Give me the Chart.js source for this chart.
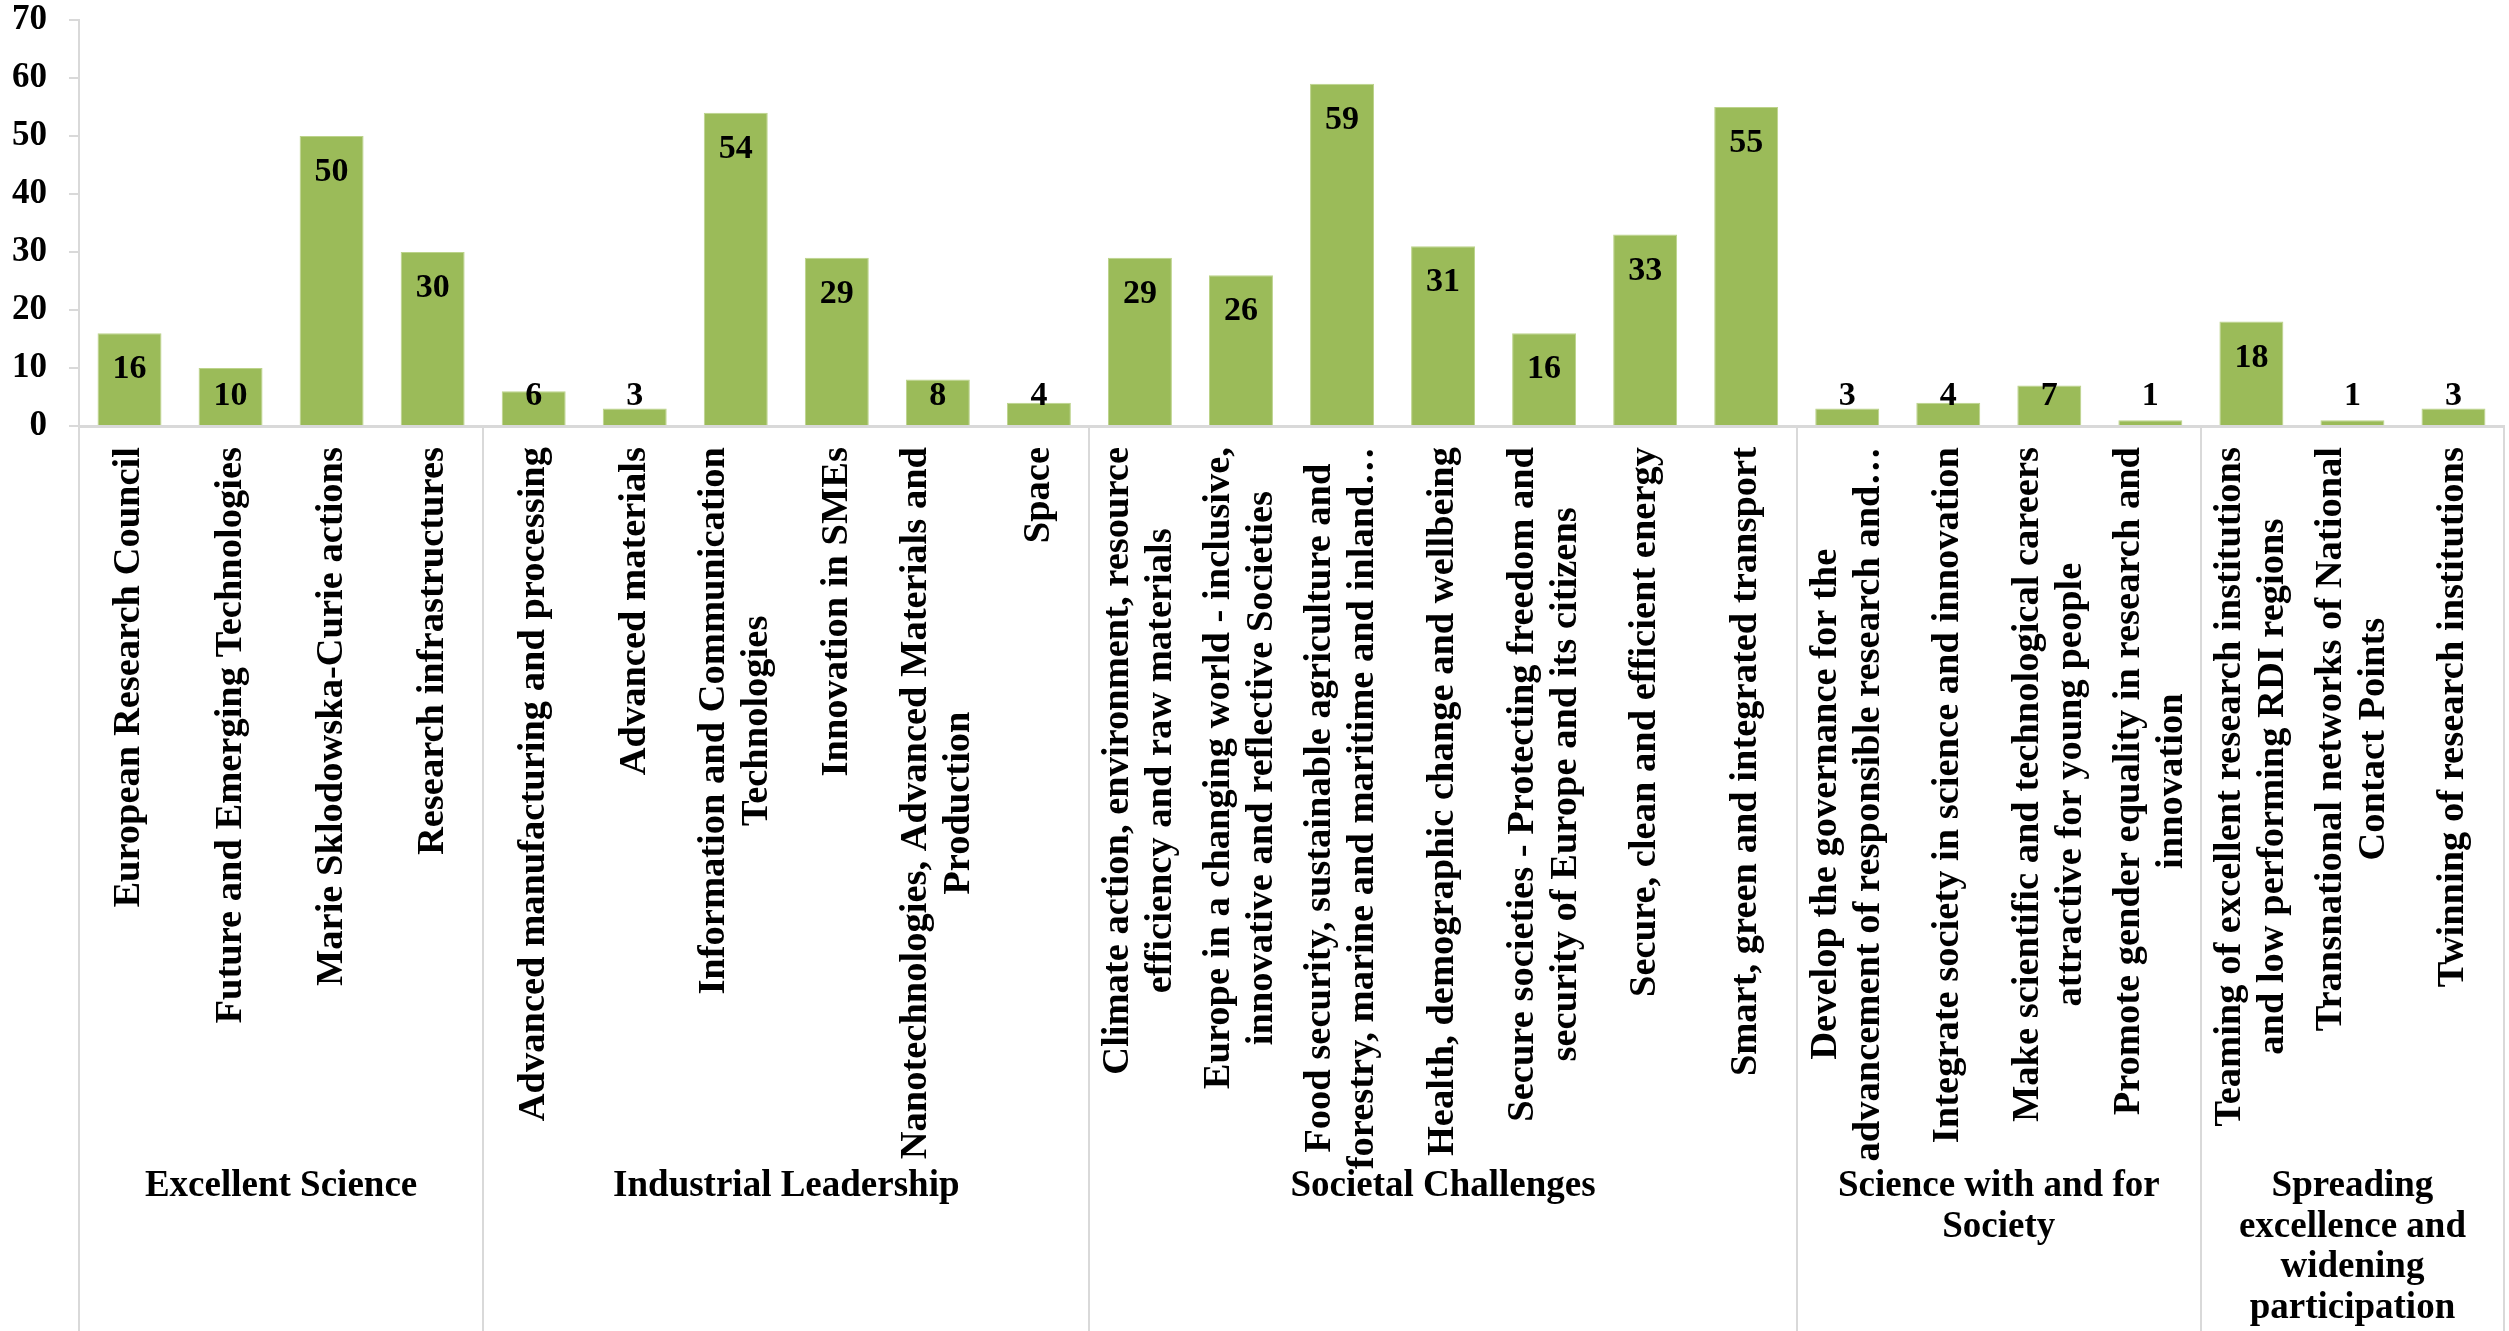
<!DOCTYPE html>
<html>
<head>
<meta charset="utf-8">
<title>Horizon 2020 participations by programme</title>
<script src="https://cdn.jsdelivr.net/npm/chart.js@4.4.1/dist/chart.umd.min.js"></script>
<style>
    body { margin: 0; background: #ffffff; }
    canvas { display: block; }
</style>
</head>
<body>
<canvas id="chart" width="2509" height="1331"></canvas>
<script>
// categories (multi-line where the reference wraps them)
const categories = [
    "European Research Council",
    "Future and Emerging Technologies",
    "Marie Sklodowska-Curie actions",
    "Research infrastructures",
    "Advanced manufacturing and processing",
    "Advanced materials",
    ["Information and Communication", "Technologies"],
    "Innovation in SMEs",
    ["Nanotechnologies, Advanced Materials and", "Production"],
    "Space",
    ["Climate action, environment, resource", "efficiency and raw materials"],
    ["Europe in a changing world - inclusive,", "innovative and reflective Societies"],
    ["Food security, sustainable agriculture and", "forestry, marine and maritime and inland…"],
    "Health, demographic change and wellbeing",
    ["Secure societies - Protecting freedom and", "security of Europe and its citizens"],
    "Secure, clean and efficient energy",
    "Smart, green and integrated transport",
    ["Develop the governance for the", "advancement of responsible research and…"],
    "Integrate society in science and innovation",
    ["Make scientific and technological careers", "attractive for young people"],
    ["Promote gender equality in research and", "innovation"],
    ["Teaming of excellent research institutions", "and low performing RDI regions"],
    ["Transnational networks of National", "Contact Points"],
    "Twinning of research institutions"
];

const values = [16, 10, 50, 30, 6, 3, 54, 29, 8, 4, 29, 26, 59, 31, 16, 33, 55, 3, 4, 7, 1, 18, 1, 3];

// pillar groups and how many categories each one covers
const groupNames = [
    ["Excellent Science"],
    ["Industrial Leadership"],
    ["Societal Challenges"],
    ["Science with and for", "Society"],
    ["Spreading", "excellence and", "widening", "participation"]
];
const groupSizes = [4, 6, 7, 4, 3];

const yTicks = [0, 10, 20, 30, 40, 50, 60, 70];

const FONT = "'Liberation Serif', 'Times New Roman', serif";
const GRID = "#d9d9d9";

// value labels: inside the top of the bar, but never lower than just above the base
const valueLabels = {
    id: "valueLabels",
    afterDatasetsDraw(chart) {
        const ctx = chart.ctx;
        const base = chart.scales.y.getPixelForValue(0);
        const meta = chart.getDatasetMeta(0);
        ctx.save();
        ctx.font = "bold 34px " + FONT;
        ctx.fillStyle = "#000";
        ctx.textAlign = "center";
        ctx.textBaseline = "alphabetic";
        meta.data.forEach((bar, i) => {
            const y = Math.min(bar.y + 45, base - 21);
            ctx.fillText(String(values[i]), bar.x, y);
        });
        ctx.restore();
    }
};

// rotated category labels, group labels and group separators
const groupAxis = {
    id: "groupAxis",
    afterDraw(chart) {
        const ctx = chart.ctx;
        const x = chart.scales.x;
        const area = chart.chartArea;
        const bottom = chart.height;

        // separators
        ctx.save();
        ctx.strokeStyle = GRID;
        ctx.lineWidth = 2;
        let idx = 0;
        const bounds = [0];
        groupSizes.forEach(n => { idx += n; bounds.push(idx); });
        bounds.forEach(b => {
            const px = Math.round(x.getPixelForValue(b - 0.5));
            ctx.beginPath();
            ctx.moveTo(px, area.bottom);
            ctx.lineTo(px, bottom);
            ctx.stroke();
        });
        ctx.restore();

        // category labels, reading bottom to top, ending just under the axis
        ctx.save();
        ctx.font = "bold 38.5px " + FONT;
        ctx.fillStyle = "#000";
        ctx.textAlign = "center";
        ctx.textBaseline = "middle";
        const lineH = 43;
        categories.forEach((lab, i) => {
            const lines = Array.isArray(lab) ? lab : [lab];
            const maxW = Math.max(...lines.map(l => ctx.measureText(l).width));
            ctx.save();
            ctx.translate(x.getPixelForValue(i), area.bottom + 21);
            ctx.rotate(-Math.PI / 2);
            lines.forEach((l, j) => {
                ctx.fillText(l, -maxW / 2, (j - (lines.length - 1) / 2) * lineH);
            });
            ctx.restore();
        });
        ctx.restore();

        // group labels
        ctx.save();
        ctx.font = "bold 37px " + FONT;
        ctx.fillStyle = "#000";
        ctx.textAlign = "center";
        ctx.textBaseline = "alphabetic";
        groupNames.forEach((g, k) => {
            const cx = (x.getPixelForValue(bounds[k] - 0.5) + x.getPixelForValue(bounds[k + 1] - 0.5)) / 2;
            g.forEach((l, j) => ctx.fillText(l, cx, 1196 + j * 40.5));
        });
        ctx.restore();
    }
};

new Chart(document.getElementById("chart"), {
    type: "bar",
    data: {
        labels: categories,
        datasets: [{
            data: values,
            backgroundColor: "#9bbb59",
            borderColor: "#bcd38b",
            borderWidth: 1,
            categoryPercentage: 1,
            barPercentage: 0.633
        }]
    },
    options: {
        responsive: false,
        animation: false,
        layout: { padding: { top: 0, right: 5, left: 0, bottom: 0 } },
        plugins: {
            legend: { display: false },
            title: { display: false },
            tooltip: { enabled: false }
        },
        scales: {
            x: {
                grid: { display: false },
                border: { display: true, color: GRID, width: 3 },
                ticks: { display: false },
                afterFit: (scale) => { scale.height = 905; }
            },
            y: {
                min: 0,
                max: 70,
                afterBuildTicks: (scale) => { scale.ticks = yTicks.map(v => ({ value: v })); },
                grid: { drawOnChartArea: false, drawTicks: true, tickLength: 10, color: GRID, lineWidth: 2 },
                border: { color: GRID, width: 2 },
                ticks: {
                    padding: 22,
                    color: "#000",
                    font: { family: FONT, size: 35, weight: "bold", lineHeight: 1 }
                },
                afterFit: (scale) => {
                    scale.width = 79;
                    scale.paddingTop = 20;
                    scale.paddingBottom = 0;
                }
            }
        }
    },
    plugins: [valueLabels, groupAxis]
});
</script>
</body>
</html>
